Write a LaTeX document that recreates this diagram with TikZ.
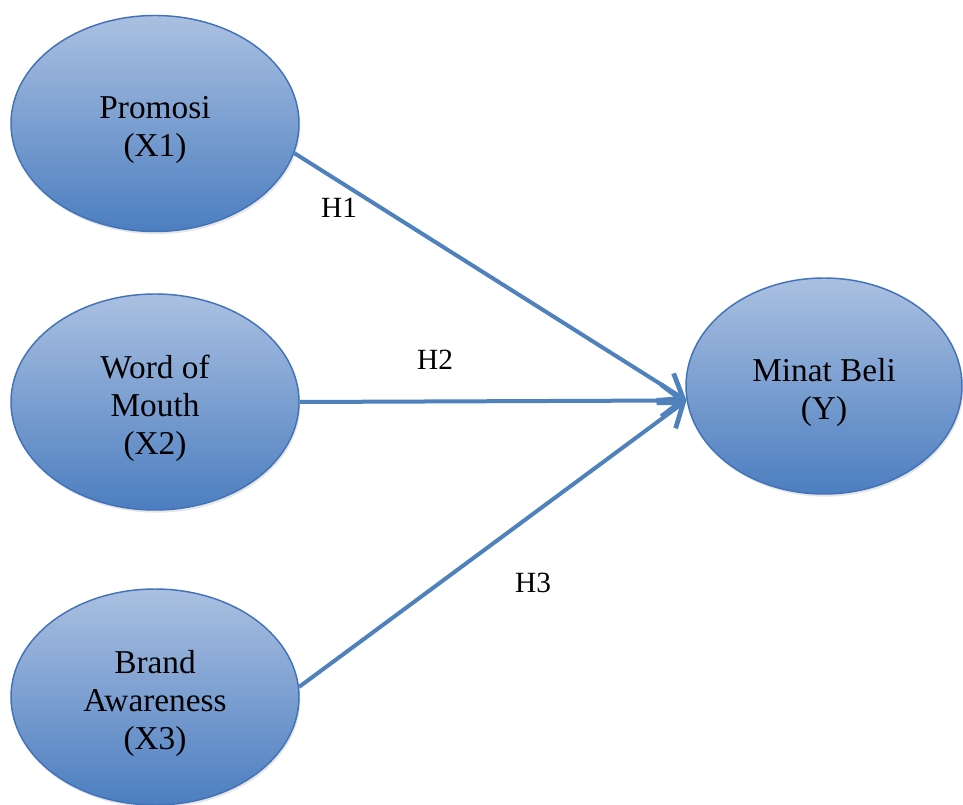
\documentclass[tikz,border=0pt]{standalone}
\usepackage{fontspec}
\setmainfont{Liberation Serif}
\usetikzlibrary{shapes.geometric,arrows.meta,shadows}

\definecolor{ovaltop}{RGB}{170,192,225}
\definecolor{ovalbot}{RGB}{76,126,192}
\definecolor{ovalline}{RGB}{66,114,186}
\definecolor{arrowblue}{RGB}{79,129,189}

\tikzset{
  oval/.style={ellipse, draw=ovalline, line width=1.1pt, top color=ovaltop, bottom color=ovalbot,
    minimum width=216pt, minimum height=162pt, inner sep=0pt,
    drop shadow={opacity=0.2, shadow xshift=1pt, shadow yshift=-2pt}},
  ovaltext/.style={align=center, yshift=-5pt, font=\fontsize{25}{28.5}\selectfont},
  hyp/.style={line width=3pt, draw=arrowblue, -{Straight Barb[length=16pt, width=24pt, line width=3.6pt]}},
  hlabel/.style={font=\fontsize{22}{26}\selectfont}
}

\begin{document}
\begin{tikzpicture}[x=0.75pt,y=0.75pt,yscale=-1,xscale=1]
\useasboundingbox (0,0) rectangle (963,805);

%Ellipse
\node [oval, label={[ovaltext]center:Promosi\\(X1)}] (promosi) at (155,123.5) {};
%Ellipse
\node [oval, label={[ovaltext]center:Word of\\Mouth\\(X2)}] (wom) at (155,402) {};
%Ellipse
\node [oval, label={[ovaltext]center:Brand\\Awareness\\(X3)}] (brand) at (155,697) {};
%Ellipse
\node [oval, minimum width=207pt, label={[ovaltext]center:Minat Beli\\(Y)}] (minat) at (824,386) {};

%Straight Lines
\draw [hyp] (promosi.-12) -- (minat.186);
%Straight Lines
\draw [hyp] (wom.east) -- (minat.186);
%Straight Lines
\draw [hyp] (brand.4) -- (minat.186);

% Text Node
\node [hlabel] (h1) at (339,208) {H1};
% Text Node
\node [hlabel] (h2) at (435,360) {H2};
% Text Node
\node [hlabel] (h3) at (533,583) {H3};

\end{tikzpicture}
\end{document}
